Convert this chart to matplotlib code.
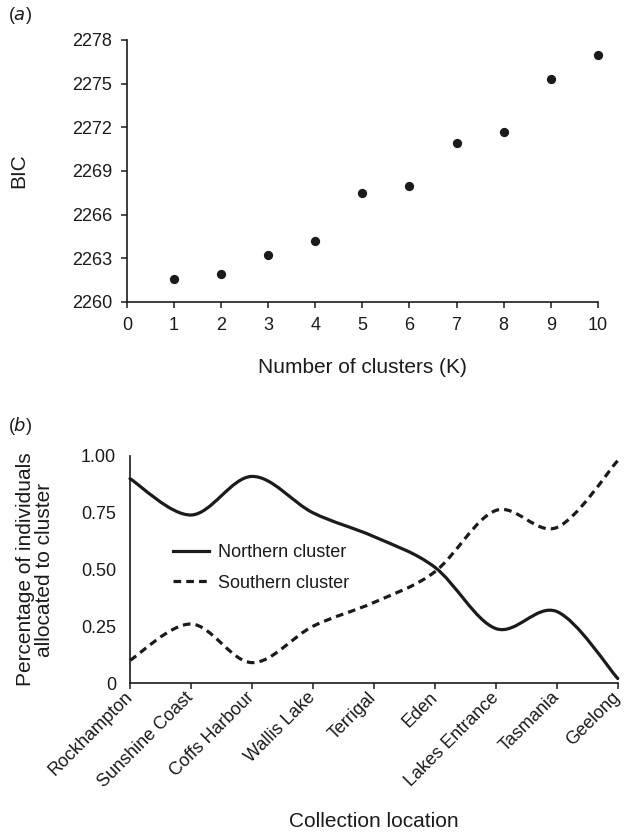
import matplotlib.pyplot as plt
from matplotlib.path import Path
from matplotlib.patches import PathPatch
from matplotlib.lines import Line2D
import numpy as np

plt.rcParams['font.family'] = ['Liberation Sans', 'DejaVu Sans']

ink = '#1c1a1b'

# panel a
k_values = [1, 2, 3, 4, 5, 6, 7, 8, 9, 10]
bic = [2261.6, 2261.9, 2263.2, 2264.2, 2267.5, 2268.0, 2270.9, 2271.7, 2275.3, 2277.0]

# panel b
locations = ['Rockhampton', 'Sunshine Coast', 'Coffs Harbour', 'Wallis Lake', 'Terrigal',
             'Eden', 'Lakes Entrance', 'Tasmania', 'Geelong']
northern = [0.90, 0.74, 0.91, 0.75, 0.645, 0.51, 0.24, 0.315, 0.02]
southern = [0.10, 0.26, 0.09, 0.25, 0.355, 0.49, 0.76, 0.685, 0.98]


def smooth_path(x, y):
    # Excel-like smoothed line: cubic bezier through the data points
    pts = np.column_stack([x, y]).astype(float)
    ext = np.vstack([pts[0], pts, pts[-1]])
    verts = [pts[0]]
    codes = [Path.MOVETO]
    for i in range(len(pts) - 1):
        p0, p1, p2, p3 = ext[i], ext[i + 1], ext[i + 2], ext[i + 3]
        c1 = p1 + (p2 - p0) / 6.0
        c2 = p2 - (p3 - p1) / 6.0
        verts += [c1, c2, p2]
        codes += [Path.CURVE4] * 3
    return Path(verts, codes)


fig = plt.figure(figsize=(6.24, 8.33), dpi=100)

fs_tick = 13
fs_lab = 15

def style(ax):
    for s in ['top', 'right']:
        ax.spines[s].set_visible(False)
    for s in ['left', 'bottom']:
        ax.spines[s].set_linewidth(1.2)
        ax.spines[s].set_color(ink)
    ax.tick_params(colors=ink, labelcolor=ink, labelsize=fs_tick, width=1.1, length=4.5, pad=6)

# (a)
ax1 = fig.add_axes([0.2035, 0.6375, 0.7545, 0.3145])
style(ax1)
ax1.scatter(k_values, bic, s=32, color=ink, zorder=3, clip_on=False)
ax1.set_xlim(0, 10)
ax1.set_ylim(2260, 2278)
ax1.set_xticks(range(0, 11))
ax1.set_yticks(range(2260, 2279, 3))
ax1.set_ylabel('BIC', fontsize=fs_lab, color=ink)
ax1.yaxis.set_label_coords(-0.21, 0.5)
ax1.set_xlabel('Number of clusters (K)', fontsize=fs_lab, color=ink)
ax1.xaxis.set_label_coords(0.5, -0.215)
fig.text(0.013, 0.981, '($\\it{a}$)', fontsize=fs_tick, color=ink, va='center')

# (b)
ax2 = fig.add_axes([0.2083, 0.180, 0.7817, 0.2726])
style(ax2)
ax2.tick_params(axis='y', length=0, pad=10)
xs = np.arange(len(locations))
ax2.add_patch(PathPatch(smooth_path(xs, northern), fill=False, edgecolor=ink,
                        linewidth=2.3, capstyle='round', clip_on=False))
ax2.add_patch(PathPatch(smooth_path(xs, southern), fill=False, edgecolor=ink,
                        linewidth=2.3, linestyle=(0, (2.4, 1.6)), capstyle='butt', clip_on=False))
ax2.set_xlim(0, len(locations) - 1)
ax2.set_ylim(0, 1)
ax2.set_yticks([0, 0.25, 0.5, 0.75, 1.0])
ax2.set_yticklabels(['0', '0.25', '0.50', '0.75', '1.00'])
ax2.set_xticks(xs)
ax2.set_xticklabels(locations, rotation=45, ha='right', va='center', rotation_mode='anchor')
ax2.tick_params(axis='x', pad=4)
ax2.set_ylabel('Percentage of individuals\nallocated to cluster', fontsize=fs_lab,
               color=ink, linespacing=1.0)
ax2.yaxis.set_label_coords(-0.155, 0.5)
ax2.set_xlabel('Collection location', fontsize=fs_lab, color=ink)
ax2.xaxis.set_label_coords(0.5, -0.57)

handles = [Line2D([], [], color=ink, lw=2.3),
           Line2D([], [], color=ink, lw=2.3, linestyle=(0, (2.4, 1.6)))]
ax2.legend(handles, ['Northern cluster', 'Southern cluster'], frameon=False,
           fontsize=fs_tick, loc='center left', bbox_to_anchor=(0.074, 0.507),
           borderaxespad=0, handlelength=2.0, handletextpad=0.45, labelspacing=0.75,
           labelcolor=ink)

fig.text(0.013, 0.488, '($\\it{b}$)', fontsize=fs_tick, color=ink, va='center')

fig.savefig('out.png', dpi=100)
